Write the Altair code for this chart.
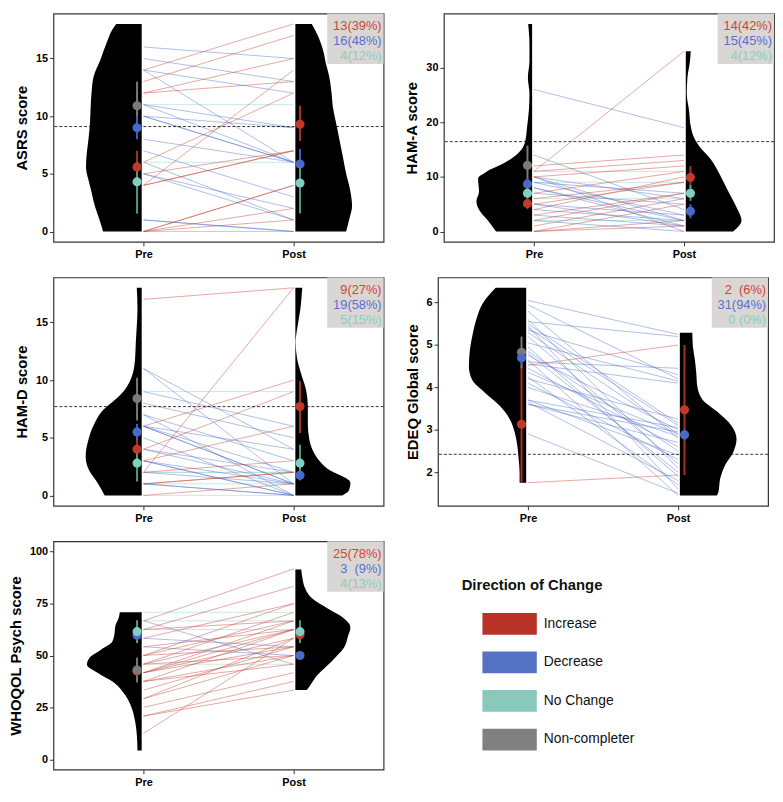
import altair as alt
import pandas as pd

# ---------------- shared categories / colours ----------------
directions = ["Increase", "Decrease", "No Change", "Non-completer"]
time_labels = ["Pre", "Post"]
time_pos = [1, 2]
dot_colors = ["#C0392B", "#4A6AC8", "#80CFC0", "#7A7A7A"]
bar_colors = ["#A93226", "#3F5FBF", "#4F9A86", "#7A7A7A"]
legend_colors = ["#B83227", "#5672C4", "#88C9BC", "#808080"]
count_colors = ["#D04535", "#5A6FD0", "#88D0C0"]
legend_title = "Direction of Change"

# ---------------- ASRS ----------------
asrs_title = "ASRS score"
asrs_ticks = [0, 5, 10, 15]
asrs_ref = 9.1
asrs_counts = ["13(39%)", "16(48%)", "4(12%)"]
asrs_inc_pre = [14, 13, 12, 12, 6, 4, 5, 4, 4, 0, 0, 0, 0]
asrs_inc_post = [18, 17, 15, 13, 12, 14, 7, 7, 7, 4, 4, 2, 1]
asrs_dec_pre = [16, 15, 14, 14, 11, 11, 10, 10, 10, 8, 7, 6, 5, 5, 1, 1]
asrs_dec_post = [15, 13, 12, 6, 9, 6, 9, 6, 6, 6, 3, 1, 2, 1, 0, 0]
asrs_nc = [11, 6, 0, 0]
asrs_pre_mean = [5.6, 9.0, 4.3, 10.9]
asrs_pre_lo = [4.2, 8.0, 1.55, 8.8]
asrs_pre_hi = [7.0, 10.0, 6.0, 13.0]
asrs_post_mean = [9.3, 5.85, 4.2, None]
asrs_post_lo = [7.85, 4.8, 1.55, None]
asrs_post_hi = [10.9, 7.15, 5.6, None]
asrs_vpre_lv = [18, 17.5, 16.3, 14.9, 13.5, 12.1, 10.7, 9.3, 7.9, 6.7, 5.6, 4.5, 3.4, 2.2, 1.1, 0]
asrs_vpre_d = [26, 30, 36, 42, 48.7, 51, 52, 52.7, 54.3, 56, 56.7, 54.3, 51, 47.7, 43.3, 39.3]
asrs_vpost_lv = [18, 16.9, 15.7, 14.6, 13.5, 12.1, 10.7, 9.3, 7.9, 6.5, 5.0, 3.6, 2.2, 1.1, 0]
asrs_vpost_d = [16.7, 23.3, 28.3, 31, 34.3, 36.7, 38.3, 41.7, 45, 48.3, 51.7, 55.7, 57.7, 55, 51.7]

# ---------------- HAM-A ----------------
hama_title = "HAM-A score"
hama_ticks = [0, 10, 20, 30]
hama_ref = 16.45
hama_counts = ["14(42%)", "15(45%)", "4(12%)"]
hama_inc_pre = [11, 12, 11, 10, 7, 6, 5, 4, 3, 2, 1, 0, 0, 0]
hama_inc_post = [33, 14, 13, 12, 11, 9, 9, 10, 7, 7, 6, 5, 2, 1]
hama_dec_pre = [26, 14, 10, 10, 10, 9, 9, 8, 8, 7, 5, 5, 4, 3, 2]
hama_dec_post = [19, 4, 6, 2, 0, 7, 3, 2, 1, 5, 3, 1, 2, 1, 0]
hama_nc = [11, 9, 6, 2]
hama_pre_mean = [5.1, 8.7, 7.0, 12.1]
hama_pre_lo = [4.1, 7.6, 6.0, 9.5]
hama_pre_hi = [6.0, 9.8, 8.0, 15.7]
hama_post_mean = [9.9, 3.7, 7.0, None]
hama_post_lo = [8.0, 2.4, 5.6, None]
hama_post_hi = [12.0, 5.0, 8.5, None]
hama_vpre_lv = [38, 34.2, 31.2, 28.2, 25.2, 22.2, 19.3, 16.3, 14.5, 12.7, 10.9, 9.7, 7.3, 5.5, 3.8, 2.0, 0]
hama_vpre_d = [4, 2.7, 2.7, 4.3, 2.7, 3.3, 5, 7.3, 13.3, 26.7, 46.7, 55, 54, 56.7, 53.3, 45, 36.7]
hama_vpost_lv = [33, 31.2, 28.2, 25.2, 22.2, 19.3, 17.5, 15.7, 13.3, 10.3, 7.3, 4.4, 2.0, 0]
hama_vpost_d = [5, 4.3, 1.7, 1, 3.3, 5, 7.7, 13.3, 25, 35, 43.3, 51.7, 56.7, 48.3]

# ---------------- HAM-D ----------------
hamd_title = "HAM-D score"
hamd_ticks = [0, 5, 10, 15]
hamd_ref = 7.7
hamd_counts = ["9(27%)", "19(58%)", "5(15%)"]
hamd_inc_pre = [17, 2, 6, 4, 3, 2, 1, 1, 0]
hamd_inc_post = [18, 18, 10, 9, 6, 3, 2, 2, 1]
hamd_dec_pre = [11, 11, 9, 8, 7, 7, 6, 6, 6, 5, 6, 4, 3, 3, 4, 3, 2, 1, 1]
hamd_dec_post = [1, 4, 6, 5, 0, 3, 2, 1, 1, 0, 4, 1, 0, 1, 2, 0, 1, 0, 0]
hamd_nc = [9, 2, 2, 1, 0]
hamd_pre_mean = [4.0, 5.5, 2.8, 8.4]
hamd_pre_lo = [2.6, 4.8, 1.2, 6.5]
hamd_pre_hi = [5.1, 6.2, 4.0, 10.2]
hamd_post_mean = [7.7, 1.75, 2.8, None]
hamd_post_lo = [5.4, 1.3, 1.5, None]
hamd_post_hi = [9.9, 2.3, 4.4, None]
hamd_vpre_lv = [18, 16.1, 14.7, 13.3, 11.9, 10.5, 9.1, 8.2, 7.4, 6.2, 4.8, 3.4, 2.3, 1.1, 0]
hamd_vpre_d = [5, 4.3, 5, 6, 6.7, 9.3, 17.7, 28.3, 39.3, 48.3, 54.3, 57, 54.3, 45, 37.7]
hamd_vpost_lv = [18, 16.1, 14.7, 13.3, 11.9, 10.5, 9.1, 7.6, 6.2, 4.8, 3.4, 2.3, 1.1, 0.4, 0]
hamd_vpost_d = [7, 5, 2.3, 0.3, 1.7, 6, 11, 12.7, 12.7, 14.3, 21, 32.7, 56, 54.3, 47.7]

# ---------------- EDEQ ----------------
edeq_title = "EDEQ Global score"
edeq_ticks = [2, 3, 4, 5, 6]
edeq_ref = 2.42
edeq_counts = ["2  (6%)", "31(94%)", "0 (0%)"]
edeq_inc_pre = [4.52, 1.75]
edeq_inc_post = [5.0, 1.93]
edeq_dec_pre = [6.05, 5.95, 5.8, 5.55, 5.45, 5.4, 5.35, 5.2, 5.05, 4.95, 4.85, 4.75, 4.65, 4.55, 4.45,
                4.35, 4.25, 4.2, 4.1, 4.0, 4.6, 4.8, 5.5, 5.3, 5.6, 3.7, 3.7, 3.65, 3.6, 3.6, 2.9]
edeq_dec_post = [5.25, 4.2, 2.8, 5.2, 1.6, 3.1, 4.3, 2.2, 4.15, 1.9, 2.5, 3.0, 1.45, 4.1, 2.6,
                 2.9, 1.7, 3.25, 2.3, 2.85, 4.45, 2.0, 3.15, 2.9, 2.1, 3.05, 2.4, 1.8, 2.95, 2.7, 1.5]
edeq_nc = []
edeq_pre_mean = [3.13, 4.7, None, 4.83]
edeq_pre_lo = [1.75, 4.55, None, 4.45]
edeq_pre_hi = [4.52, 4.85, None, 5.2]
edeq_post_mean = [3.47, 2.88, None, None]
edeq_post_lo = [1.93, 2.75, None, None]
edeq_post_hi = [5.0, 3.0, None, None]
edeq_vpre_lv = [6.35, 6.21, 5.98, 5.66, 5.27, 4.88, 4.50, 4.18, 3.87, 3.56, 3.25, 2.94, 2.62, 2.31, 2.0, 1.75]
edeq_vpre_d = [31, 36.7, 44.3, 50, 54.3, 57.3, 58.3, 55, 41.7, 26.7, 16.7, 11.7, 9, 7.7, 6.7, 6.7]
edeq_vpost_lv = [5.29, 4.96, 4.65, 4.34, 4.03, 3.72, 3.40, 3.09, 2.78, 2.47, 2.16, 1.84, 1.53, 1.45]
edeq_vpost_d = [12.7, 13.3, 15.3, 16.7, 17.7, 22.7, 39.3, 52.7, 57.7, 54.3, 46, 41, 39.3, 37.7]

# ---------------- WHOQOL ----------------
whoqol_title = "WHOQOL Psych score"
whoqol_ticks = [0, 25, 50, 75, 100]
whoqol_counts = ["25(78%)", "3  (9%)", "4(13%)"]
whoqol_inc_pre = [66.7, 62.5, 62.5, 58.3, 54.2, 50, 50, 50, 45.8, 45.8, 45.8, 41.7, 41.7, 41.7, 41.7,
                  37.5, 37.5, 37.5, 33.3, 29.2, 29.2, 25, 20.8, 20.8, 12.5]
whoqol_inc_post = [91.7, 83.3, 66.7, 75, 62.5, 75, 66.7, 54.2, 70.8, 62.5, 50, 66.7, 62.5, 58.3, 54.2,
                   62.5, 50, 45.8, 54.2, 58.3, 50, 41.7, 37.5, 33.3, 58.3]
whoqol_dec_pre = [66.7, 58.3, 54.2]
whoqol_dec_post = [45.8, 54.2, 50]
whoqol_nc = [70.8, 66.7, 62.5, 45.8]
whoqol_pre_mean = [42.5, 59.7, 61.5, 43.0]
whoqol_pre_lo = [38, 56, 56, 37]
whoqol_pre_hi = [47, 63, 67, 49]
whoqol_post_mean = [60.0, 50.0, 61.5, None]
whoqol_post_lo = [57, 49, 56, None]
whoqol_post_hi = [63, 51, 67, None]
whoqol_vpre_lv = [70.9, 68.3, 64.4, 60.5, 56.6, 52.7, 48.8, 45.6, 41.7, 37.0, 30.8, 24.5, 18.3, 12.0, 4.2]
whoqol_vpre_d = [22.3, 23.3, 26.7, 27.7, 30, 41.7, 53.3, 55.7, 45, 28.3, 16.7, 10, 6.7, 5, 4.3]
whoqol_vpost_lv = [91.4, 87.0, 82.3, 77.7, 73.0, 68.3, 63.6, 58.9, 54.2, 49.5, 44.8, 40.2, 35.5, 33.4]
whoqol_vpost_d = [6, 7.3, 10, 16.7, 31.7, 48.3, 56, 53.3, 50, 41.7, 31.7, 21.7, 15, 11.7]

# ---------------- layout constants ----------------
W, H = 334, 231
X_DOM = [0.4, 2.6]
DENS_SCALE = 152.7      # density units per x unit
DOT_DX = 0.043
VIOLIN_GAP = 0.012
FONT = "Liberation Sans"


def xenc(field):
    expr = f"datum.value == {time_pos[0]} ? '{time_labels[0]}' : '{time_labels[1]}'"
    return alt.X(field, type="quantitative",
                 scale=alt.Scale(domain=X_DOM, nice=False, zero=False),
                 axis=alt.Axis(values=time_pos, labelExpr=expr, title=None, grid=False))


def yenc(field, dom, ticks, title):
    return alt.Y(field, type="quantitative",
                 scale=alt.Scale(domain=dom, nice=False, zero=False),
                 axis=alt.Axis(values=ticks, title=title, format="d", grid=False))


def ydomain(lo, hi):
    pad = (hi - lo) * 0.05
    return [lo - pad, hi + pad]


def panel(title, ticks, ydom, vpre_lv, vpre_d, vpost_lv, vpost_d,
          inc_pre, inc_post, dec_pre, dec_post, nc,
          pre_stats, post_stats, counts, ref=None):
    Y = lambda f: yenc(f, ydom, ticks, title)
    layers = []
    # half violins
    c0 = time_pos[0] - VIOLIN_GAP
    c1 = time_pos[1] + VIOLIN_GAP
    vpre = pd.DataFrame({"v": vpre_lv,
                         "xa": [c0 - d / DENS_SCALE for d in vpre_d],
                         "xb": [c0] * len(vpre_d)})
    vpost = pd.DataFrame({"v": vpost_lv,
                          "xa": [c1] * len(vpost_d),
                          "xb": [c1 + d / DENS_SCALE for d in vpost_d]})
    for vdf in (vpre, vpost):
        layers.append(alt.Chart(vdf).mark_area(orient="horizontal", color="black",
                                              interpolate="monotone").encode(
            y=Y("v"), x=xenc("xa"), x2="xb"))
    # subject lines
    rows = []
    for a, b in zip(nc, nc):
        rows.append((a, b, directions[2]))
    for a, b in zip(dec_pre, dec_post):
        rows.append((a, b, directions[1]))
    for a, b in zip(inc_pre, inc_post):
        rows.append((a, b, directions[0]))
    ldf = pd.DataFrame(rows, columns=["pre", "post", "dir"])
    ldf["xa"] = time_pos[0]
    ldf["xb"] = time_pos[1]
    layers.append(alt.Chart(ldf).mark_rule(strokeWidth=0.8, opacity=0.55).encode(
        x=xenc("xa"), x2="xb", y=Y("pre"), y2="post",
        color=alt.Color("dir:N", scale=alt.Scale(domain=directions, range=dot_colors), legend=None)))
    # reference line
    if ref is not None:
        layers.append(alt.Chart(pd.DataFrame({"ref": [ref]})).mark_rule(
            color="black", strokeDash=[3, 2], strokeWidth=0.8).encode(y=Y("ref")))
    # means and intervals
    srows = []
    for idx in [0, 3, 1, 2]:
        for tpos, st, sgn in ((time_pos[0], pre_stats, -1), (time_pos[1], post_stats, 1)):
            m, lo, hi = st[0][idx], st[1][idx], st[2][idx]
            if m is None:
                continue
            srows.append((tpos + sgn * DOT_DX, m, lo, hi, directions[idx]))
    sdf = pd.DataFrame(srows, columns=["x", "m", "lo", "hi", "dir"])
    layers.append(alt.Chart(sdf).mark_rule(strokeWidth=2).encode(
        x=xenc("x"), y=Y("lo"), y2="hi",
        stroke=alt.Stroke("dir:N", scale=alt.Scale(domain=directions, range=bar_colors), legend=None)))
    layers.append(alt.Chart(sdf).mark_circle(size=85, opacity=1).encode(
        x=xenc("x"), y=Y("m"),
        color=alt.Color("dir:N", scale=alt.Scale(domain=directions, range=dot_colors), legend=None)))
    # count box
    layers.append(alt.Chart(pd.DataFrame({"k": [0]})).mark_rect(color="#D9D6D3").encode(
        x=alt.value(W - 57), x2=alt.value(W), y=alt.value(0), y2=alt.value(51)))
    for i, lab in enumerate(counts):
        tdf = pd.DataFrame({"label": [lab.replace(" ", "\u00a0")]})
        layers.append(alt.Chart(tdf).mark_text(align="right", baseline="middle", fontSize=13,
                                               color=count_colors[i], font=FONT).encode(
            x=alt.value(W - 2), y=alt.value(13 + 15 * i), text="label:N"))
    return alt.layer(*layers).properties(width=W, height=H).resolve_scale(color="shared")


p1 = panel(asrs_title, asrs_ticks, ydomain(0, 18), asrs_vpre_lv, asrs_vpre_d, asrs_vpost_lv, asrs_vpost_d,
           asrs_inc_pre, asrs_inc_post, asrs_dec_pre, asrs_dec_post, asrs_nc,
           (asrs_pre_mean, asrs_pre_lo, asrs_pre_hi), (asrs_post_mean, asrs_post_lo, asrs_post_hi),
           asrs_counts, asrs_ref)
p2 = panel(hama_title, hama_ticks, ydomain(0, 38), hama_vpre_lv, hama_vpre_d, hama_vpost_lv, hama_vpost_d,
           hama_inc_pre, hama_inc_post, hama_dec_pre, hama_dec_post, hama_nc,
           (hama_pre_mean, hama_pre_lo, hama_pre_hi), (hama_post_mean, hama_post_lo, hama_post_hi),
           hama_counts, hama_ref)
p3 = panel(hamd_title, hamd_ticks, ydomain(0, 18), hamd_vpre_lv, hamd_vpre_d, hamd_vpost_lv, hamd_vpost_d,
           hamd_inc_pre, hamd_inc_post, hamd_dec_pre, hamd_dec_post, hamd_nc,
           (hamd_pre_mean, hamd_pre_lo, hamd_pre_hi), (hamd_post_mean, hamd_post_lo, hamd_post_hi),
           hamd_counts, hamd_ref)
p4 = panel(edeq_title, edeq_ticks, ydomain(1.45, 6.35), edeq_vpre_lv, edeq_vpre_d, edeq_vpost_lv, edeq_vpost_d,
           edeq_inc_pre, edeq_inc_post, edeq_dec_pre, edeq_dec_post, edeq_nc,
           (edeq_pre_mean, edeq_pre_lo, edeq_pre_hi), (edeq_post_mean, edeq_post_lo, edeq_post_hi),
           edeq_counts, edeq_ref)
p5 = panel(whoqol_title, whoqol_ticks, ydomain(0, 100), whoqol_vpre_lv, whoqol_vpre_d, whoqol_vpost_lv,
           whoqol_vpost_d, whoqol_inc_pre, whoqol_inc_post, whoqol_dec_pre, whoqol_dec_post, whoqol_nc,
           (whoqol_pre_mean, whoqol_pre_lo, whoqol_pre_hi), (whoqol_post_mean, whoqol_post_lo, whoqol_post_hi),
           whoqol_counts)

# ---------------- legend panel ----------------
leg_df = pd.DataFrame({"dir": directions})
leg_y = alt.Y("dir:N", sort=directions, axis=None,
              scale=alt.Scale(domain=directions, range=[72.5, 211.5], paddingInner=0.436, paddingOuter=0))
leg_keys = alt.Chart(leg_df).mark_rect().encode(
    y=leg_y, x=alt.value(79), x2=alt.value(134),
    color=alt.Color("dir:N", scale=alt.Scale(domain=directions, range=legend_colors), legend=None))
leg_labels = alt.Chart(leg_df).mark_text(align="left", baseline="middle", fontSize=14, font=FONT,
                                         color="#111").encode(
    y=leg_y, x=alt.value(141), text="dir:N")
leg_title = alt.Chart(pd.DataFrame({"t": [legend_title]})).mark_text(
    align="left", baseline="middle", fontSize=15, fontWeight="bold", font=FONT, color="#111").encode(
    x=alt.value(58), y=alt.value(44), text="t:N")
legend_panel = alt.layer(leg_title, leg_keys, leg_labels).properties(
    width=300, height=H, view=alt.ViewBackground(strokeWidth=0, stroke="transparent"))

row1 = alt.hconcat(p1, p2, spacing=20).resolve_scale(x="independent", y="independent",
                                                     color="independent", stroke="independent")
row2 = alt.hconcat(p3, p4, spacing=20).resolve_scale(x="independent", y="independent",
                                                     color="independent", stroke="independent")
row3 = alt.hconcat(p5, legend_panel, spacing=20).resolve_scale(x="independent", y="independent",
                                                               color="independent", stroke="independent")

chart = alt.vconcat(row1, row2, row3, spacing=16).resolve_scale(
    x="independent", y="independent", color="independent", stroke="independent"
).properties(padding={"left": 0, "top": 0, "right": 0, "bottom": 0}).configure(
    font=FONT
).configure_view(
    stroke="#333333", strokeWidth=1.2
).configure_axis(
    labelFont=FONT, titleFont=FONT, labelFontSize=11, labelFontWeight="bold", labelColor="black",
    titleFontSize=15, titleFontWeight="bold", titleColor="black",
    tickColor="#333333", tickSize=4, domain=False, grid=False, labelPadding=2
).configure_axisY(titlePadding=6).configure_axisX(labelPadding=3)

chart.save("out.html", embed_options={"renderer": "svg", "actions": False})
